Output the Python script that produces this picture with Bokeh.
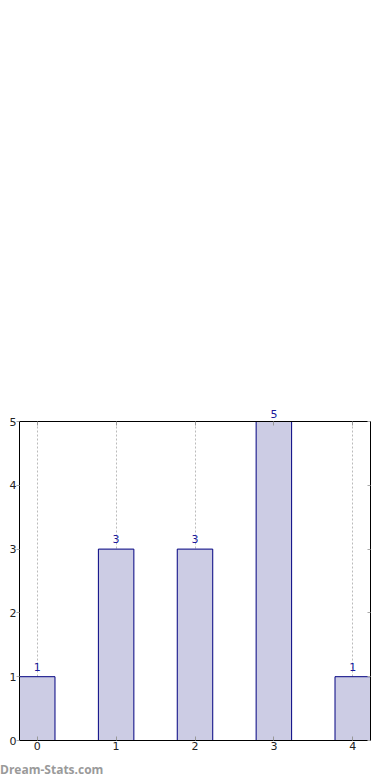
from bokeh.plotting import figure
from bokeh.models import Range1d, ColumnDataSource, LinearAxis, LabelSet, FixedTicker, Grid, Div
from bokeh.layouts import column
from bokeh.embed import file_html
from bokeh.resources import INLINE
from bokeh.core.properties import value

categories = [0, 1, 2, 3, 4]
counts = [1, 3, 3, 5, 1]
y_ticks = [0, 1, 2, 3, 4, 5]
y_max = 5
watermark = "Dream-Stats.com"

src = ColumnDataSource(dict(x=categories, top=counts, label=[str(c) for c in counts]))

p = figure(width=384, height=758, output_backend="svg", toolbar_location=None,
           x_range=Range1d(-0.225, 4.225), y_range=Range1d(0, y_max),
           min_border_left=19, min_border_right=14, min_border_top=421, min_border_bottom=18,
           x_axis_location=None, y_axis_location=None)
p.background_fill_color = "white"
p.border_fill_color = "white"
p.outline_line_color = "black"
p.outline_line_width = 1

FONT = "DejaVu Sans"
NAVY = "#1a1a9c"


def make_axis(ticks, tin, tout, color, show_labels=True):
    ax = LinearAxis(ticker=FixedTicker(ticks=ticks))
    ax.axis_line_color = "black"
    ax.major_tick_in = tin
    ax.major_tick_out = tout
    ax.major_tick_line_color = color
    ax.minor_tick_line_color = None
    ax.major_label_text_font = FONT
    if show_labels:
        ax.major_label_text_font_size = "11px"
        ax.major_label_text_color = "#222222"
    else:
        ax.major_label_text_font_size = "1px"
        ax.major_label_text_color = None
        ax.major_label_standoff = 0
    return ax


xa = make_axis(categories, 4, 0, "#999999")
xa.major_label_standoff = 1
p.add_layout(xa, "below")

# top axis: mirrored tick marks, plus value labels of bars that reach the top of the frame
xt = make_axis(categories, 4, 0, "#999999")
xt.major_label_overrides = {x: (str(c) if c >= y_max else "") for x, c in zip(categories, counts)}
xt.major_label_text_color = NAVY
xt.major_label_standoff = 4
p.add_layout(xt, "above")

ya = make_axis(y_ticks, 0, 3, "#aaaaaa")
ya.major_label_standoff = 0
p.add_layout(ya, "left")

yr = make_axis(y_ticks, 3, 0, "#aaaaaa", show_labels=False)
p.add_layout(yr, "right")

p.xgrid.grid_line_color = None
p.ygrid.grid_line_color = None
p.add_layout(Grid(dimension=0, ticker=FixedTicker(ticks=categories),
                  grid_line_color="#bbbbbb", grid_line_dash="2 2", grid_line_width=1))

p.vbar(x="x", top="top", width=0.45, bottom=0, source=src,
       fill_color="#ccccE4", line_color="#000080", line_width=1)

labels = LabelSet(x="x", y="top", text="label", source=src, text_align="center",
                  text_baseline="alphabetic", y_offset=6, text_color=NAVY,
                  text_font=value(FONT), text_font_size=value("11px"))
p.add_layout(labels)

wm = Div(text=watermark, width=160, height=22, margin=(0, 0, 0, 0),
         styles={"font-family": "Open Sans", "font-size": "12px", "font-weight": "bold",
                 "color": "#9a9a9a", "line-height": "12px", "padding-top": "6px"})

layout = column(p, wm, spacing=0)

open("out.html", "w").write(file_html(layout, INLINE))
